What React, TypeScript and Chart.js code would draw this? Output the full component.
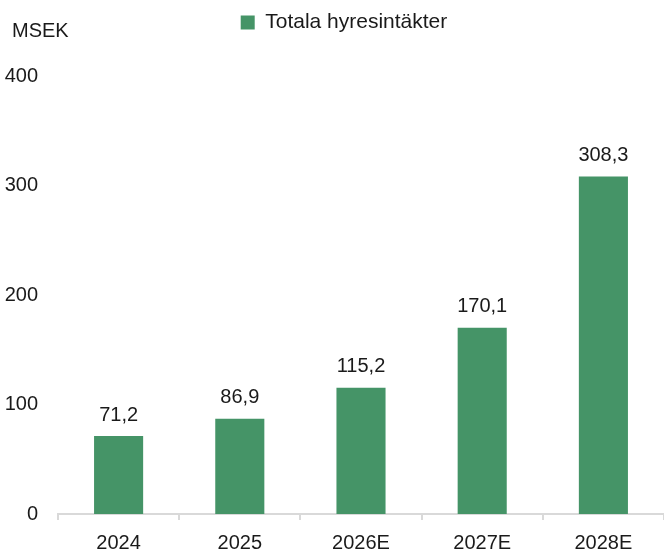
import React, { useEffect, useRef } from "react";
import { Chart, registerables } from "chart.js";

Chart.register(...registerables);

const categories = ["2024", "2025", "2026E", "2027E", "2028E"];
const rentalIncome = [71.2, 86.9, 115.2, 170.1, 308.3];
const seriesName = "Totala hyresintäkter";
const unitLabel = "MSEK";
const yTicks = [0, 100, 200, 300, 400];

const FONT = "'Liberation Sans', Arial, sans-serif";
const BAR = "#459467";
const TEXT = "#1a1a1a";

const fmt = (v: number) => v.toFixed(1).replace(".", ",");

const labelPlugin = {
  id: "valueLabels",
  afterInit(chart: any) {
    const legend = chart.legend;
    if (legend && !legend.__wrapped) {
      const orig = legend.fit.bind(legend);
      legend.fit = function () {
        orig();
        this.height = 76;
      };
      legend.__wrapped = true;
    }
  },
  afterLayout(chart: any) {
    if (chart.legend) chart.legend.left = 24;
  },
  afterDatasetsDraw(chart: any) {
    const ctx = chart.ctx;
    const meta = chart.getDatasetMeta(0);
    ctx.save();
    ctx.font = `20px ${FONT}`;
    ctx.fillStyle = TEXT;
    ctx.textAlign = "center";
    ctx.textBaseline = "middle";
    meta.data.forEach((bar: any, i: number) => {
      ctx.fillText(fmt(rentalIncome[i]), bar.x, bar.y - 21);
    });
    ctx.textAlign = "left";
    ctx.fillText(unitLabel, 12, 31);
    ctx.restore();
  },
};

export default function App() {
  const ref = useRef<HTMLCanvasElement>(null);
  useEffect(() => {
    const chart = new Chart(ref.current!, {
      type: "bar",
      data: {
        labels: categories,
        datasets: [
          {
            label: seriesName,
            data: rentalIncome,
            backgroundColor: BAR,
            categoryPercentage: 1,
            barPercentage: 0.405,
          },
        ],
      },
      options: {
        animation: false,
        responsive: false,
        maintainAspectRatio: false,
        layout: { padding: { left: 0, right: 0, top: 0, bottom: 0 } },
        plugins: {
          legend: {
            position: "top",
            labels: {
              boxWidth: 14,
              boxHeight: 14,
              padding: 12,
              color: TEXT,
              font: { family: FONT, size: 21 },
            },
          },
          tooltip: { enabled: false },
        },
        scales: {
          x: {
            grid: {
              display: true,
              drawOnChartArea: false,
              drawTicks: true,
              tickLength: 6,
              color: "#d9d9d9",
              lineWidth: 2,
              offset: true,
            },
            border: { display: true, color: "#d9d9d9", width: 2 },
            ticks: { color: TEXT, font: { family: FONT, size: 20 }, padding: 11 },
            afterFit: (s: any) => {
              s.height = 36;
            },
          },
          y: {
            min: 0,
            max: 400,
            afterBuildTicks: (s: any) => {
              s.ticks = yTicks.map((v) => ({ value: v }));
            },
            grid: { display: false },
            border: { display: false },
            ticks: {
              color: TEXT,
              font: { family: FONT, size: 20 },
              padding: 12,
            },
            afterFit: (s: any) => {
              s.width = 58;
            },
          },
        },
      } as any,
      plugins: [labelPlugin],
    });
    return () => chart.destroy();
  }, []);
  return (
    <div style={{ position: "fixed", left: 0, top: 0, width: 664, height: 550, background: "#fff" }}>
      <canvas ref={ref} width={664} height={550} style={{ width: 664, height: 550 }} />
    </div>
  );
}
